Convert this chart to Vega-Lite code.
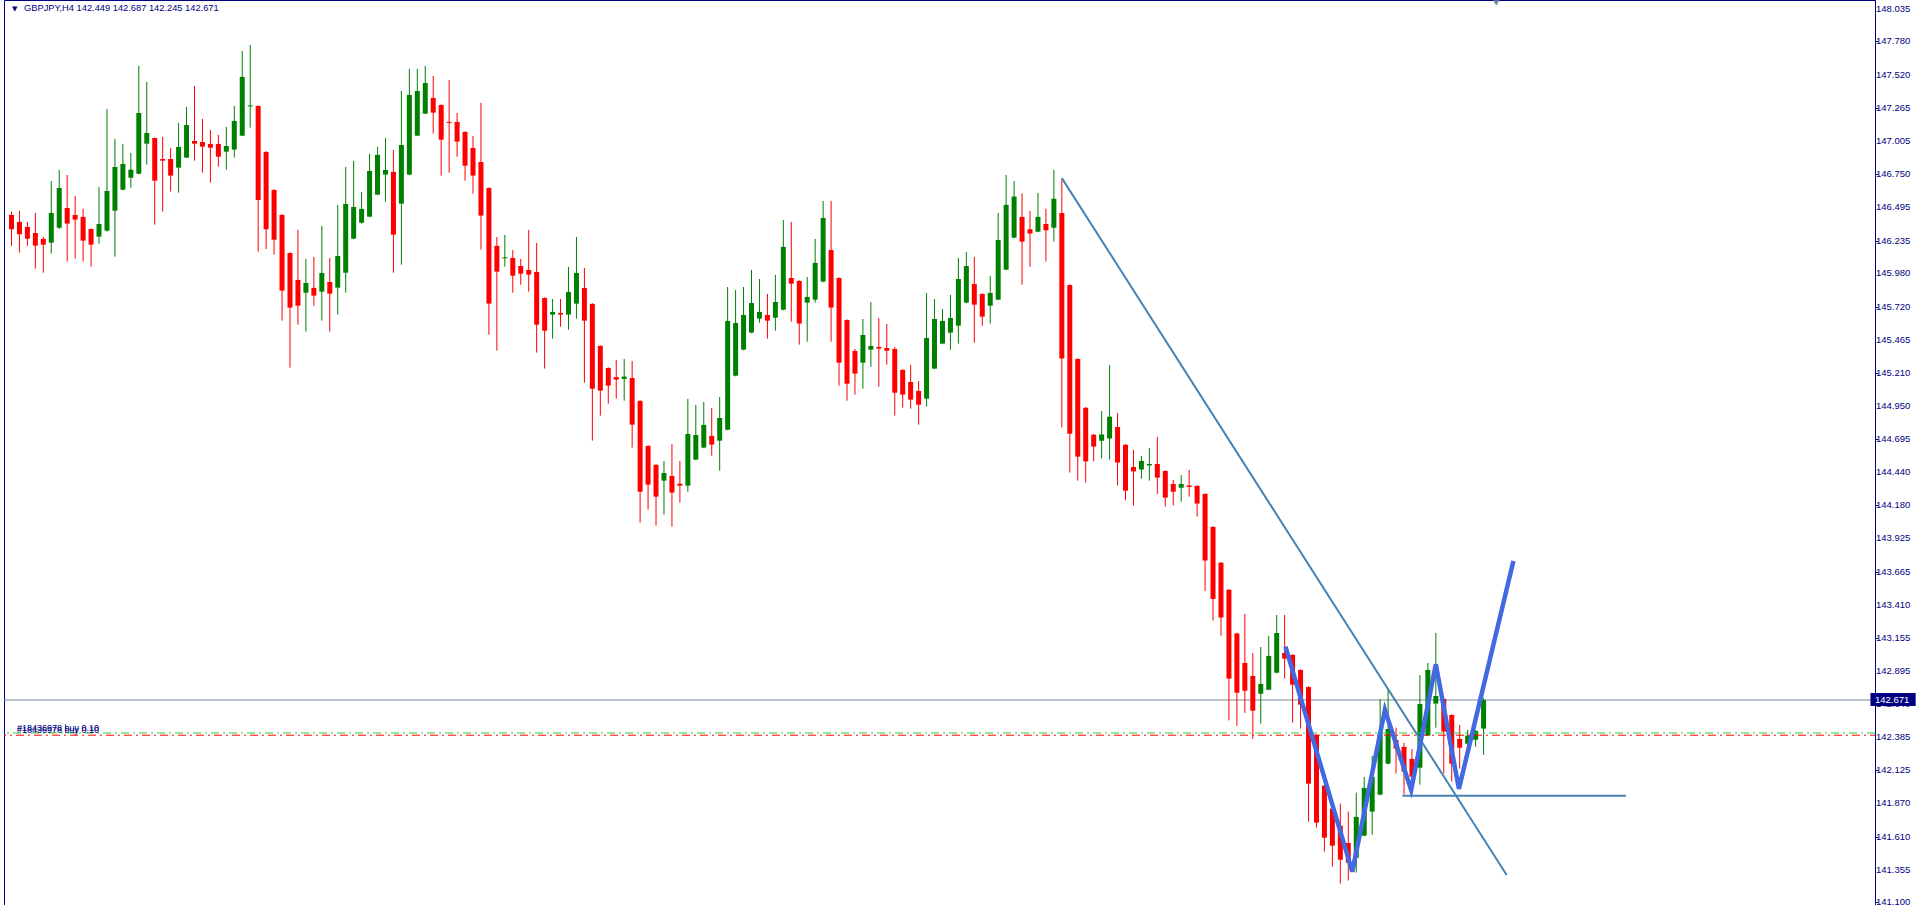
{
  "$schema": "https://vega.github.io/schema/vega-lite/v6.json",
  "width": 1871,
  "height": 905,
  "autosize": {"type": "none"},
  "padding": {"left": 4, "top": 0, "right": 45, "bottom": 0},
  "background": "#ffffff",
  "config": {
    "view": {"stroke": "#000080", "strokeWidth": 1},
    "axis": {"grid": false},
    "text": {"font": "Liberation Sans", "fontSize": 9}
  },
  "datasets": {
    "ticks": [
      {"v":148.035},{"v":147.780},{"v":147.520},{"v":147.265},{"v":147.005},{"v":146.750},{"v":146.495},
      {"v":146.235},{"v":145.980},{"v":145.720},{"v":145.465},{"v":145.210},{"v":144.950},{"v":144.695},
      {"v":144.440},{"v":144.180},{"v":143.925},{"v":143.665},{"v":143.410},{"v":143.155},{"v":142.895},
      {"v":142.640},{"v":142.385},{"v":142.125},{"v":141.870},{"v":141.610},{"v":141.355},{"v":141.100}
    ],
    "candles": [
      {"i":0,"o":146.434,"h":146.460,"l":146.194,"c":146.323},
      {"i":1,"o":146.380,"h":146.465,"l":146.142,"c":146.284},
      {"i":2,"o":146.341,"h":146.380,"l":146.194,"c":146.250},
      {"i":3,"o":146.294,"h":146.450,"l":146.017,"c":146.196},
      {"i":4,"o":146.248,"h":146.263,"l":145.986,"c":146.204},
      {"i":5,"o":146.219,"h":146.698,"l":146.134,"c":146.450},
      {"i":6,"o":146.335,"h":146.783,"l":146.325,"c":146.643},
      {"i":7,"o":146.488,"h":146.744,"l":146.072,"c":146.367},
      {"i":8,"o":146.434,"h":146.581,"l":146.095,"c":146.398},
      {"i":9,"o":146.419,"h":146.481,"l":146.072,"c":146.235},
      {"i":10,"o":146.325,"h":146.330,"l":146.033,"c":146.204},
      {"i":11,"o":146.266,"h":146.651,"l":146.211,"c":146.364},
      {"i":12,"o":146.312,"h":147.256,"l":146.305,"c":146.620},
      {"i":13,"o":146.467,"h":147.024,"l":146.111,"c":146.806},
      {"i":14,"o":146.630,"h":146.985,"l":146.625,"c":146.830},
      {"i":15,"o":146.723,"h":146.915,"l":146.646,"c":146.785},
      {"i":16,"o":146.754,"h":147.590,"l":146.748,"c":147.225},
      {"i":17,"o":146.987,"h":147.466,"l":146.824,"c":147.070},
      {"i":18,"o":147.031,"h":147.035,"l":146.359,"c":146.700},
      {"i":19,"o":146.868,"h":147.039,"l":146.460,"c":146.855},
      {"i":20,"o":146.868,"h":146.954,"l":146.615,"c":146.739},
      {"i":21,"o":146.801,"h":147.148,"l":146.607,"c":146.962},
      {"i":22,"o":146.879,"h":147.272,"l":146.875,"c":147.132},
      {"i":23,"o":147.008,"h":147.435,"l":146.855,"c":146.987},
      {"i":24,"o":147.000,"h":147.179,"l":146.762,"c":146.964},
      {"i":25,"o":146.985,"h":147.093,"l":146.685,"c":146.956},
      {"i":26,"o":146.985,"h":147.055,"l":146.809,"c":146.886},
      {"i":27,"o":146.925,"h":147.117,"l":146.785,"c":146.969},
      {"i":28,"o":146.941,"h":147.280,"l":146.879,"c":147.163},
      {"i":29,"o":147.049,"h":147.706,"l":147.045,"c":147.505},
      {"i":30,"o":147.276,"h":147.753,"l":147.111,"c":147.284},
      {"i":31,"o":147.280,"h":147.285,"l":146.149,"c":146.550},
      {"i":32,"o":146.923,"h":146.928,"l":146.170,"c":146.323},
      {"i":33,"o":146.628,"h":146.633,"l":146.126,"c":146.242},
      {"i":34,"o":146.434,"h":146.440,"l":145.614,"c":145.847},
      {"i":35,"o":146.139,"h":146.144,"l":145.249,"c":145.715},
      {"i":36,"o":145.930,"h":146.318,"l":145.583,"c":145.730},
      {"i":37,"o":145.831,"h":146.093,"l":145.529,"c":145.906},
      {"i":38,"o":145.868,"h":146.108,"l":145.730,"c":145.808},
      {"i":39,"o":145.839,"h":146.349,"l":145.614,"c":145.984},
      {"i":40,"o":145.914,"h":146.100,"l":145.529,"c":145.823},
      {"i":41,"o":145.870,"h":146.512,"l":145.661,"c":146.116},
      {"i":42,"o":145.986,"h":146.806,"l":145.831,"c":146.519},
      {"i":43,"o":146.250,"h":146.853,"l":146.245,"c":146.496},
      {"i":44,"o":146.374,"h":146.612,"l":146.367,"c":146.481},
      {"i":45,"o":146.421,"h":146.907,"l":146.416,"c":146.775},
      {"i":46,"o":146.592,"h":146.962,"l":146.587,"c":146.900},
      {"i":47,"o":146.747,"h":147.031,"l":146.537,"c":146.783},
      {"i":48,"o":146.768,"h":146.938,"l":145.986,"c":146.281},
      {"i":49,"o":146.522,"h":147.396,"l":146.048,"c":146.977},
      {"i":50,"o":146.747,"h":147.567,"l":146.742,"c":147.365},
      {"i":51,"o":147.049,"h":147.567,"l":147.045,"c":147.396},
      {"i":52,"o":147.220,"h":147.590,"l":147.215,"c":147.458},
      {"i":53,"o":147.342,"h":147.512,"l":147.065,"c":147.228},
      {"i":54,"o":147.287,"h":147.292,"l":146.739,"c":147.018},
      {"i":55,"o":147.156,"h":147.481,"l":146.762,"c":147.148},
      {"i":56,"o":147.156,"h":147.225,"l":146.886,"c":147.003},
      {"i":57,"o":147.078,"h":147.083,"l":146.700,"c":146.816},
      {"i":58,"o":146.954,"h":147.047,"l":146.599,"c":146.739},
      {"i":59,"o":146.845,"h":147.303,"l":146.165,"c":146.429},
      {"i":60,"o":146.643,"h":146.648,"l":145.505,"c":145.746},
      {"i":61,"o":146.194,"h":146.263,"l":145.381,"c":145.994},
      {"i":62,"o":146.097,"h":146.279,"l":146.033,"c":146.105},
      {"i":63,"o":146.100,"h":146.162,"l":145.831,"c":145.963},
      {"i":64,"o":146.038,"h":146.093,"l":145.893,"c":145.979},
      {"i":65,"o":146.007,"h":146.318,"l":145.839,"c":145.971},
      {"i":66,"o":145.992,"h":146.217,"l":145.366,"c":145.583},
      {"i":67,"o":145.790,"h":145.795,"l":145.242,"c":145.536},
      {"i":68,"o":145.661,"h":145.782,"l":145.474,"c":145.682},
      {"i":69,"o":145.674,"h":145.782,"l":145.567,"c":145.661},
      {"i":70,"o":145.661,"h":146.031,"l":145.544,"c":145.837},
      {"i":71,"o":145.746,"h":146.263,"l":145.630,"c":145.984},
      {"i":72,"o":145.868,"h":146.023,"l":145.133,"c":145.614},
      {"i":73,"o":145.744,"h":145.749,"l":144.683,"c":145.086},
      {"i":74,"o":145.418,"h":145.423,"l":144.877,"c":145.071},
      {"i":75,"o":145.247,"h":145.252,"l":144.970,"c":145.110},
      {"i":76,"o":145.177,"h":145.309,"l":145.009,"c":145.156},
      {"i":77,"o":145.162,"h":145.317,"l":144.993,"c":145.180},
      {"i":78,"o":145.169,"h":145.301,"l":144.629,"c":144.807},
      {"i":79,"o":144.991,"h":144.996,"l":144.047,"c":144.287},
      {"i":80,"o":144.642,"h":144.647,"l":144.148,"c":144.342},
      {"i":81,"o":144.495,"h":144.500,"l":144.024,"c":144.249},
      {"i":82,"o":144.373,"h":144.526,"l":144.109,"c":144.432},
      {"i":83,"o":144.409,"h":144.657,"l":144.016,"c":144.280},
      {"i":84,"o":144.349,"h":144.526,"l":144.202,"c":144.334},
      {"i":85,"o":144.334,"h":145.007,"l":144.287,"c":144.735},
      {"i":86,"o":144.536,"h":144.960,"l":144.531,"c":144.727},
      {"i":87,"o":144.629,"h":144.983,"l":144.624,"c":144.805},
      {"i":88,"o":144.720,"h":144.937,"l":144.567,"c":144.652},
      {"i":89,"o":144.683,"h":145.022,"l":144.450,"c":144.859},
      {"i":90,"o":144.768,"h":145.875,"l":144.763,"c":145.612},
      {"i":91,"o":145.187,"h":145.852,"l":145.182,"c":145.596},
      {"i":92,"o":145.389,"h":145.875,"l":145.384,"c":145.658},
      {"i":93,"o":145.521,"h":146.007,"l":145.516,"c":145.751},
      {"i":94,"o":145.630,"h":145.937,"l":145.598,"c":145.682},
      {"i":95,"o":145.658,"h":145.821,"l":145.474,"c":145.614},
      {"i":96,"o":145.637,"h":145.969,"l":145.536,"c":145.759},
      {"i":97,"o":145.699,"h":146.395,"l":145.694,"c":146.186},
      {"i":98,"o":145.945,"h":146.380,"l":145.606,"c":145.901},
      {"i":99,"o":145.922,"h":145.927,"l":145.428,"c":145.591},
      {"i":100,"o":145.754,"h":145.953,"l":145.451,"c":145.798},
      {"i":101,"o":145.777,"h":146.248,"l":145.754,"c":146.062},
      {"i":102,"o":145.917,"h":146.543,"l":145.912,"c":146.411},
      {"i":103,"o":146.162,"h":146.543,"l":145.451,"c":145.715},
      {"i":104,"o":145.945,"h":145.950,"l":145.110,"c":145.288},
      {"i":105,"o":145.619,"h":145.624,"l":144.993,"c":145.125},
      {"i":106,"o":145.379,"h":145.394,"l":145.040,"c":145.203},
      {"i":107,"o":145.288,"h":145.627,"l":145.086,"c":145.503},
      {"i":108,"o":145.389,"h":145.759,"l":145.257,"c":145.418},
      {"i":109,"o":145.410,"h":145.635,"l":145.102,"c":145.397},
      {"i":110,"o":145.402,"h":145.588,"l":145.273,"c":145.381},
      {"i":111,"o":145.394,"h":145.410,"l":144.877,"c":145.055},
      {"i":112,"o":145.232,"h":145.237,"l":144.939,"c":145.040},
      {"i":113,"o":145.138,"h":145.270,"l":144.931,"c":145.001},
      {"i":114,"o":145.069,"h":145.146,"l":144.807,"c":144.962},
      {"i":115,"o":145.009,"h":145.829,"l":144.947,"c":145.480},
      {"i":116,"o":145.242,"h":145.782,"l":145.237,"c":145.627},
      {"i":117,"o":145.436,"h":145.705,"l":145.431,"c":145.612},
      {"i":118,"o":145.521,"h":145.813,"l":145.389,"c":145.635},
      {"i":119,"o":145.575,"h":146.100,"l":145.436,"c":145.937},
      {"i":120,"o":145.754,"h":146.147,"l":145.749,"c":146.038},
      {"i":121,"o":145.899,"h":146.108,"l":145.443,"c":145.738},
      {"i":122,"o":145.821,"h":145.826,"l":145.575,"c":145.645},
      {"i":123,"o":145.730,"h":145.961,"l":145.591,"c":145.829},
      {"i":124,"o":145.777,"h":146.450,"l":145.772,"c":146.240},
      {"i":125,"o":146.010,"h":146.744,"l":146.005,"c":146.512},
      {"i":126,"o":146.258,"h":146.698,"l":146.253,"c":146.577},
      {"i":127,"o":146.419,"h":146.602,"l":145.893,"c":146.227},
      {"i":128,"o":146.324,"h":146.465,"l":146.031,"c":146.290},
      {"i":129,"o":146.304,"h":146.605,"l":146.300,"c":146.419},
      {"i":130,"o":146.364,"h":146.482,"l":146.072,"c":146.315},
      {"i":131,"o":146.335,"h":146.783,"l":146.227,"c":146.560},
      {"i":132,"o":146.450,"h":146.712,"l":144.786,"c":145.320},
      {"i":133,"o":145.891,"h":145.896,"l":144.436,"c":144.737},
      {"i":134,"o":145.317,"h":145.322,"l":144.373,"c":144.559},
      {"i":135,"o":144.938,"h":144.943,"l":144.358,"c":144.522},
      {"i":136,"o":144.729,"h":144.735,"l":144.522,"c":144.637},
      {"i":137,"o":144.682,"h":144.913,"l":144.545,"c":144.731},
      {"i":138,"o":144.700,"h":145.270,"l":144.536,"c":144.869},
      {"i":139,"o":144.789,"h":144.898,"l":144.336,"c":144.513},
      {"i":140,"o":144.651,"h":144.656,"l":144.221,"c":144.295},
      {"i":141,"o":144.479,"h":144.611,"l":144.180,"c":144.444},
      {"i":142,"o":144.459,"h":144.564,"l":144.387,"c":144.526},
      {"i":143,"o":144.491,"h":144.626,"l":144.373,"c":144.502},
      {"i":144,"o":144.502,"h":144.712,"l":144.270,"c":144.396},
      {"i":145,"o":144.448,"h":144.453,"l":144.172,"c":144.241},
      {"i":146,"o":144.347,"h":144.378,"l":144.180,"c":144.287},
      {"i":147,"o":144.318,"h":144.417,"l":144.209,"c":144.347},
      {"i":148,"o":144.336,"h":144.456,"l":144.249,"c":144.324},
      {"i":149,"o":144.332,"h":144.337,"l":144.094,"c":144.195},
      {"i":150,"o":144.270,"h":144.275,"l":143.517,"c":143.753},
      {"i":151,"o":144.014,"h":144.019,"l":143.288,"c":143.455},
      {"i":152,"o":143.736,"h":143.741,"l":143.170,"c":143.311},
      {"i":153,"o":143.526,"h":143.531,"l":142.513,"c":142.837},
      {"i":154,"o":143.187,"h":143.192,"l":142.470,"c":142.728},
      {"i":155,"o":142.958,"h":143.339,"l":142.571,"c":142.743},
      {"i":156,"o":142.858,"h":143.036,"l":142.369,"c":142.588},
      {"i":157,"o":142.720,"h":143.083,"l":142.488,"c":142.796},
      {"i":158,"o":142.751,"h":143.168,"l":142.746,"c":143.013},
      {"i":159,"o":142.883,"h":143.331,"l":142.878,"c":143.191},
      {"i":160,"o":143.036,"h":143.331,"l":142.837,"c":142.992},
      {"i":161,"o":143.021,"h":143.026,"l":142.495,"c":142.790},
      {"i":162,"o":142.904,"h":142.909,"l":142.449,"c":142.635},
      {"i":163,"o":142.772,"h":142.777,"l":141.727,"c":142.022},
      {"i":164,"o":142.400,"h":142.405,"l":141.681,"c":141.720},
      {"i":165,"o":142.007,"h":142.012,"l":141.495,"c":141.603},
      {"i":166,"o":141.828,"h":141.867,"l":141.378,"c":141.541},
      {"i":167,"o":141.696,"h":141.867,"l":141.246,"c":141.432},
      {"i":168,"o":141.562,"h":141.805,"l":141.270,"c":141.409},
      {"i":169,"o":141.448,"h":141.952,"l":141.332,"c":141.764},
      {"i":170,"o":141.619,"h":142.074,"l":141.614,"c":141.989},
      {"i":171,"o":141.805,"h":142.237,"l":141.626,"c":142.074},
      {"i":172,"o":141.937,"h":142.679,"l":141.932,"c":142.415},
      {"i":173,"o":142.177,"h":142.757,"l":142.172,"c":142.446},
      {"i":174,"o":142.361,"h":142.456,"l":142.100,"c":142.294},
      {"i":175,"o":142.307,"h":142.338,"l":141.937,"c":142.115},
      {"i":176,"o":142.214,"h":142.291,"l":142.038,"c":142.076},
      {"i":177,"o":142.146,"h":142.865,"l":142.014,"c":142.640},
      {"i":178,"o":142.395,"h":142.958,"l":142.390,"c":142.904},
      {"i":179,"o":142.643,"h":143.191,"l":142.456,"c":142.702},
      {"i":180,"o":142.679,"h":142.684,"l":142.100,"c":142.426},
      {"i":181,"o":142.555,"h":142.560,"l":142.038,"c":142.177},
      {"i":182,"o":142.369,"h":142.478,"l":142.139,"c":142.301},
      {"i":183,"o":142.332,"h":142.439,"l":142.309,"c":142.395},
      {"i":184,"o":142.363,"h":142.439,"l":142.309,"c":142.431},
      {"i":185,"o":142.449,"h":142.687,"l":142.245,"c":142.671}
    ],
    "lines": [
      {"k":"trend","n":0,"i":132,"p":146.72},
      {"k":"trend","n":1,"i":187.9,"p":141.314},
      {"k":"level","n":0,"i":174.8,"p":141.929},
      {"k":"level","n":1,"i":202.9,"p":141.929},
      {"k":"zigzag","n":0,"i":160.1,"p":143.085},
      {"k":"zigzag","n":1,"i":168.5,"p":141.339},
      {"k":"zigzag","n":2,"i":172.6,"p":142.594},
      {"k":"zigzag","n":3,"i":175.9,"p":141.973},
      {"k":"zigzag","n":4,"i":179.0,"p":142.948},
      {"k":"zigzag","n":5,"i":181.9,"p":141.981},
      {"k":"zigzag","n":6,"i":188.75,"p":143.750}
    ]
  },
  "layer": [
    {
      "data": {"values": [{"p": 142.671}]},
      "mark": {"type": "rule", "color": "#778899", "strokeWidth": 1},
      "encoding": {
        "y": {"field": "p", "type": "quantitative", "scale": {"domain": [141.0806, 148.1016], "nice": false, "zero": false},
          "axis": {
            "orient": "right", "title": null, "grid": false, "labels": false,
            "values": [148.035,147.780,147.520,147.265,147.005,146.750,146.495,146.235,145.980,145.720,145.465,145.210,144.950,144.695,144.440,144.180,143.925,143.665,143.410,143.155,142.895,142.640,142.385,142.125,141.870,141.610,141.355,141.100],
            "tickColor": "#000080", "tickSize": 3, "domainColor": "#000080"
          }
        }
      }
    },
    {
      "data": {"name": "candles"},
      "mark": {"type": "rule", "strokeWidth": 1},
      "encoding": {
        "x": {"field": "i", "type": "quantitative", "scale": {"domain": [-0.3125, 233.5625], "nice": false, "zero": false}, "axis": null},
        "y": {"field": "l", "type": "quantitative"},
        "y2": {"field": "h"},
        "color": {"condition": {"test": "datum.c >= datum.o", "value": "#008000"}, "value": "#ff0000"}
      }
    },
    {
      "data": {"name": "candles"},
      "mark": {"type": "bar", "size": 5},
      "encoding": {
        "x": {"field": "i", "type": "quantitative", "axis": null},
        "y": {"field": "o", "type": "quantitative"},
        "y2": {"field": "c"},
        "color": {"condition": {"test": "datum.c >= datum.o", "value": "#008000"}, "value": "#ff0000"}
      }
    },
    {
      "data": {"values": [{"p": 142.415}]},
      "mark": {"type": "rule", "color": "#32cd32", "strokeWidth": 1, "strokeDash": [8, 4, 2, 4]},
      "encoding": {"y": {"field": "p", "type": "quantitative"}}
    },
    {
      "data": {"values": [{"p": 142.398}]},
      "mark": {"type": "rule", "color": "#ff0000", "strokeWidth": 1, "strokeDash": [8, 4, 2, 4], "strokeDashOffset": 3},
      "encoding": {"y": {"field": "p", "type": "quantitative"}}
    },
    {
      "data": {"name": "lines"},
      "transform": [{"filter": "datum.k !== 'zigzag'"}],
      "mark": {"type": "line", "color": "#4682b4", "strokeWidth": 2, "clip": true},
      "encoding": {
        "x": {"field": "i", "type": "quantitative", "axis": null},
        "y": {"field": "p", "type": "quantitative"},
        "detail": {"field": "k"},
        "order": {"field": "n"}
      }
    },
    {
      "data": {"name": "lines"},
      "transform": [{"filter": "datum.k === 'zigzag'"}],
      "mark": {"type": "line", "color": "#4169e1", "strokeWidth": 4.5, "strokeJoin": "miter", "clip": true},
      "encoding": {
        "x": {"field": "i", "type": "quantitative", "axis": null},
        "y": {"field": "p", "type": "quantitative"},
        "order": {"field": "n"}
      }
    },
    {
      "data": {"values": [{"t": "#18436978 buy 0.10", "p": 142.415}, {"t": "#18436978 buy 0.10", "p": 142.398}]},
      "mark": {"type": "text", "align": "left", "baseline": "alphabetic", "dx": 8, "dy": -2, "color": "#000080", "font": "Liberation Sans", "fontSize": 9},
      "encoding": {
        "x": {"datum": -0.3125, "type": "quantitative", "axis": null},
        "y": {"field": "p", "type": "quantitative"},
        "text": {"field": "t"}
      }
    },
    {
      "data": {"values": [{"t": "GBPJPY,H4  142.449 142.687 142.245 142.671"}]},
      "mark": {"type": "text", "align": "left", "baseline": "alphabetic", "dx": 15, "dy": 11, "color": "#000080", "font": "Liberation Sans", "fontSize": 9.3},
      "encoding": {
        "x": {"datum": -0.3125, "type": "quantitative", "axis": null},
        "y": {"datum": 148.1016, "type": "quantitative"},
        "text": {"field": "t"}
      }
    },
    {
      "data": {"values": [{"t": "▼"}]},
      "mark": {"type": "text", "align": "left", "baseline": "alphabetic", "dx": 3, "dy": 11, "color": "#000080", "font": "DejaVu Sans", "fontSize": 7},
      "encoding": {
        "x": {"datum": -0.3125, "type": "quantitative", "axis": null},
        "y": {"datum": 148.1016, "type": "quantitative"},
        "text": {"field": "t"}
      }
    },
    {
      "data": {"values": [{"i": 186.6, "p": 148.078}]},
      "mark": {"type": "point", "shape": "triangle-down", "filled": true, "size": 40, "color": "#6e8aa8", "opacity": 1, "clip": false},
      "encoding": {
        "x": {"field": "i", "type": "quantitative", "axis": null},
        "y": {"field": "p", "type": "quantitative"}
      }
    },
    {
      "data": {"name": "ticks"},
      "mark": {"type": "text", "align": "left", "baseline": "middle", "dx": 6, "color": "#000080", "font": "Liberation Sans", "fontSize": 9.5, "clip": false},
      "encoding": {
        "x": {"datum": 233.5625, "type": "quantitative", "axis": null},
        "y": {"field": "v", "type": "quantitative"},
        "text": {"field": "v", "type": "quantitative", "format": ".3f"}
      }
    },
    {
      "data": {"values": [{"a": 233.62, "b": 239.3, "lo": 142.625, "hi": 142.726}]},
      "mark": {"type": "rect", "color": "#000080", "clip": false},
      "encoding": {
        "x": {"field": "a", "type": "quantitative", "axis": null},
        "x2": {"field": "b"},
        "y": {"field": "lo", "type": "quantitative"},
        "y2": {"field": "hi"}
      }
    },
    {
      "data": {"values": [{"t": "142.671", "p": 142.671}]},
      "mark": {"type": "text", "align": "left", "baseline": "middle", "dx": 5, "color": "#ffffff", "font": "Liberation Sans", "fontSize": 9.5, "clip": false},
      "encoding": {
        "x": {"datum": 233.5625, "type": "quantitative", "axis": null},
        "y": {"field": "p", "type": "quantitative"},
        "text": {"field": "t"}
      }
    }
  ]
}
